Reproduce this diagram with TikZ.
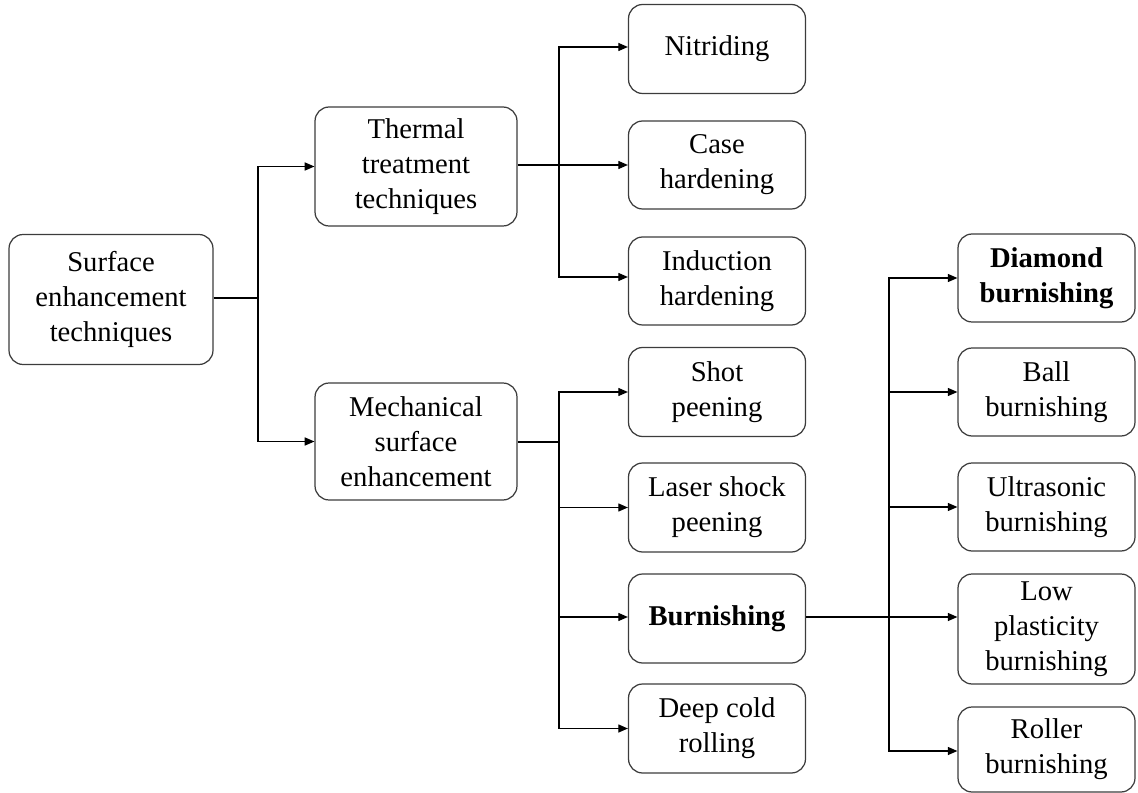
\documentclass[tikz,border=0pt]{standalone}
\usepackage{fontspec}
\setmainfont{Liberation Serif}
\usepackage{tikz}
\usetikzlibrary{positioning,arrows.meta,calc}
\definecolor{boxgray}{HTML}{3C3C3C}

\begin{document}
\begin{tikzpicture}[x=0.02cm, y=-0.02cm,
    box/.style={draw=boxgray, line width=0.7pt, rounded corners=8pt, align=center,
      inner sep=2pt, font=\fontsize{16.3}{19.9}\selectfont},
    arr/.style={-{Triangle[length=5.5pt, width=4.6pt]}, line width=0.7pt}]
    \useasboundingbox (0,0) rectangle (1138,793);
    % level 1 and 2
    \node[box, minimum width=4.08cm, minimum height=2.6cm] (surf) at (111,299.5) {Surface\\enhancement\\techniques};
    \node[box, minimum width=4.04cm, minimum height=2.38cm] (therm) at (416,166.5) {Thermal\\treatment\\techniques};
    \node[box, minimum width=4.04cm, minimum height=2.34cm] (mech) at (416,441.5) {Mechanical\\surface\\enhancement};
    % level 3
    \node[box, minimum width=3.54cm, minimum height=1.78cm] (nitr) at (717,49) {Nitriding};
    \node[box, minimum width=3.54cm, minimum height=1.76cm] (case) at (717,165) {Case\\hardening};
    \node[box, minimum width=3.54cm, minimum height=1.76cm] (induc) at (717,281) {Induction\\hardening};
    \node[box, minimum width=3.54cm, minimum height=1.78cm] (shot) at (717,392) {Shot\\peening};
    \node[box, minimum width=3.54cm, minimum height=1.78cm] (laser) at (717,507.5) {Laser shock\\peening};
    \node[box, minimum width=3.54cm, minimum height=1.78cm] (burn) at (717,618.5) {\textbf{Burnishing}};
    \node[box, minimum width=3.54cm, minimum height=1.78cm] (deep) at (717,728.5) {Deep cold\\rolling};
    % level 4
    \node[box, minimum width=3.54cm, minimum height=1.76cm] (diam) at (1046.5,278) {\textbf{Diamond}\\\textbf{burnishing}};
    \node[box, minimum width=3.54cm, minimum height=1.76cm] (ball) at (1046.5,392) {Ball\\burnishing};
    \node[box, minimum width=3.54cm, minimum height=1.76cm] (ultra) at (1046.5,507) {Ultrasonic\\burnishing};
    \node[box, minimum width=3.54cm, minimum height=2.2cm] (low) at (1046.5,629) {Low\\plasticity\\burnishing};
    \node[box, minimum width=3.54cm, minimum height=1.7cm] (roll) at (1046.5,749.5) {Roller\\burnishing};
    % connectors
    \coordinate (b1) at (258,298);
    \draw[line width=0.7pt] (surf.east |- b1) -- (b1);
    \draw[arr] (b1) |- (therm.west);
    \draw[arr] (b1) |- (mech.west);
    \coordinate (b2) at (559,165);
    \draw[arr] (therm.east |- b2) -- (b2 -| case.west);
    \draw[arr] (b2) |- ($(nitr.west)+(0,-2)$);
    \draw[arr] (b2) |- ($(induc.west)+(0,-4)$);
    \coordinate (b3) at (559,442);
    \draw[line width=0.7pt] (mech.east |- b3) -- (b3);
    \draw[arr] (b3) |- (shot.west);
    \draw[arr] (b3) |- (laser.west);
    \draw[arr] (b3) |- ($(burn.west)+(0,-1.5)$);
    \draw[arr] (b3) |- (deep.west);
    \coordinate (b4) at (889,617);
    \draw[arr] (burn.east |- b4) -- (b4 -| low.west);
    \draw[arr] (b4) |- (diam.west);
    \draw[arr] (b4) |- (ball.west);
    \draw[arr] (b4) |- (ultra.west);
    \draw[arr] (b4) |- ($(roll.west)+(0,1.5)$);
  \end{tikzpicture}
\end{document}
